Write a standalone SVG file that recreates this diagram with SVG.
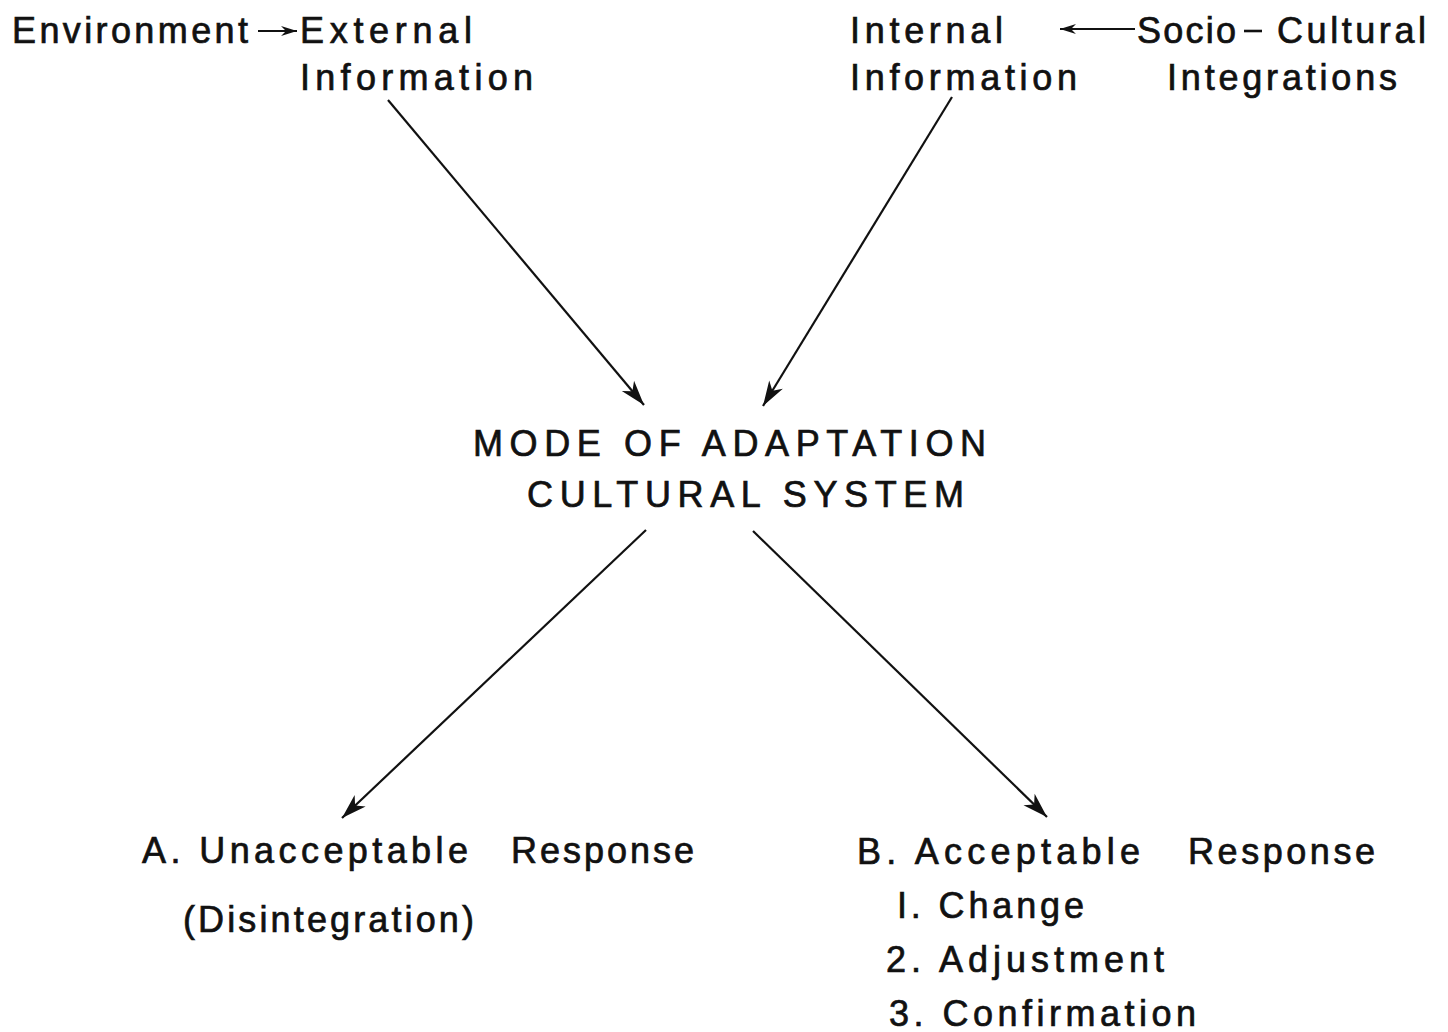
<svg xmlns="http://www.w3.org/2000/svg" width="1448" height="1032" viewBox="0 0 1448 1032">
  <style>
    .lbl { font-family: "Liberation Sans", Arial, sans-serif; font-size: 36px; fill: #111; stroke: #111; stroke-width: 0.7px; }
    .edge { stroke: #111; stroke-width: 2.2; fill: none; }
  </style>
  <defs>
    <marker id="head" viewBox="-26 -9 28 18" refX="0" refY="0" markerWidth="28" markerHeight="18" markerUnits="userSpaceOnUse" orient="auto">
      <path d="M0,0 L-25,-8 L-18,0 L-25,8 Z" fill="#111"/>
    </marker>
    <marker id="small" viewBox="-16 -7 17 14" refX="0" refY="0" markerWidth="17" markerHeight="14" markerUnits="userSpaceOnUse" orient="auto">
      <path d="M0,0 L-16,-5 L-11,0 L-16,5 Z" fill="#111"/>
    </marker>
  </defs>
  <rect width="1448" height="1032" fill="#fff"/>

  <g id="connectors">
    <line class="edge" x1="258" y1="31" x2="297" y2="31" marker-end="url(#small)"/>
    <line class="edge" x1="1135" y1="29" x2="1060" y2="29" marker-end="url(#small)"/>
    <line class="edge" x1="388" y1="100" x2="644" y2="405" marker-end="url(#head)"/>
    <line class="edge" x1="952" y1="97" x2="763" y2="406" marker-end="url(#head)"/>
    <line class="edge" x1="646" y1="530" x2="342" y2="818" marker-end="url(#head)"/>
    <line class="edge" x1="753" y1="531" x2="1047" y2="817" marker-end="url(#head)"/>
  </g>

  <g id="environment">
    <text class="lbl" x="12" y="43" textLength="236" lengthAdjust="spacing">Environment</text>
  </g>
  <g id="external-information">
    <text class="lbl" x="300" y="43" textLength="172" lengthAdjust="spacing">External</text>
    <text class="lbl" x="300" y="90" textLength="233" lengthAdjust="spacing">Information</text>
  </g>
  <g id="internal-information">
    <text class="lbl" x="850" y="43" textLength="153" lengthAdjust="spacing">Internal</text>
    <text class="lbl" x="850" y="90" textLength="227" lengthAdjust="spacing">Information</text>
  </g>
  <g id="socio-cultural-integrations">
    <text class="lbl" x="1137" y="43" textLength="99" lengthAdjust="spacing">Socio</text>
    <line x1="1244" y1="31" x2="1262" y2="31" stroke="#111" stroke-width="2.6"/>
    <text class="lbl" x="1277" y="43" textLength="149" lengthAdjust="spacing">Cultural</text>
    <text class="lbl" x="1167" y="90" textLength="230" lengthAdjust="spacing">Integrations</text>
  </g>
  <g id="mode-of-adaptation">
    <text class="lbl" x="473" y="456" textLength="513" lengthAdjust="spacing">MODE OF ADAPTATION</text>
    <text class="lbl" x="527" y="507" textLength="437" lengthAdjust="spacing">CULTURAL SYSTEM</text>
  </g>
  <g id="unacceptable-response">
    <text class="lbl" x="142" y="863" textLength="326" lengthAdjust="spacing">A. Unacceptable</text>
    <text class="lbl" x="511" y="863" textLength="183" lengthAdjust="spacing">Response</text>
    <text class="lbl" x="183" y="932" textLength="291" lengthAdjust="spacing">(Disintegration)</text>
  </g>
  <g id="acceptable-response">
    <text class="lbl" x="857" y="864" textLength="283" lengthAdjust="spacing">B.  Acceptable</text>
    <text class="lbl" x="1188" y="864" textLength="187" lengthAdjust="spacing">Response</text>
    <text class="lbl" x="897" y="918" textLength="187" lengthAdjust="spacing">I.  Change</text>
    <text class="lbl" x="886" y="972" textLength="278" lengthAdjust="spacing">2.  Adjustment</text>
    <text class="lbl" x="889" y="1026" textLength="307" lengthAdjust="spacing">3.  Confirmation</text>
  </g>
</svg>
